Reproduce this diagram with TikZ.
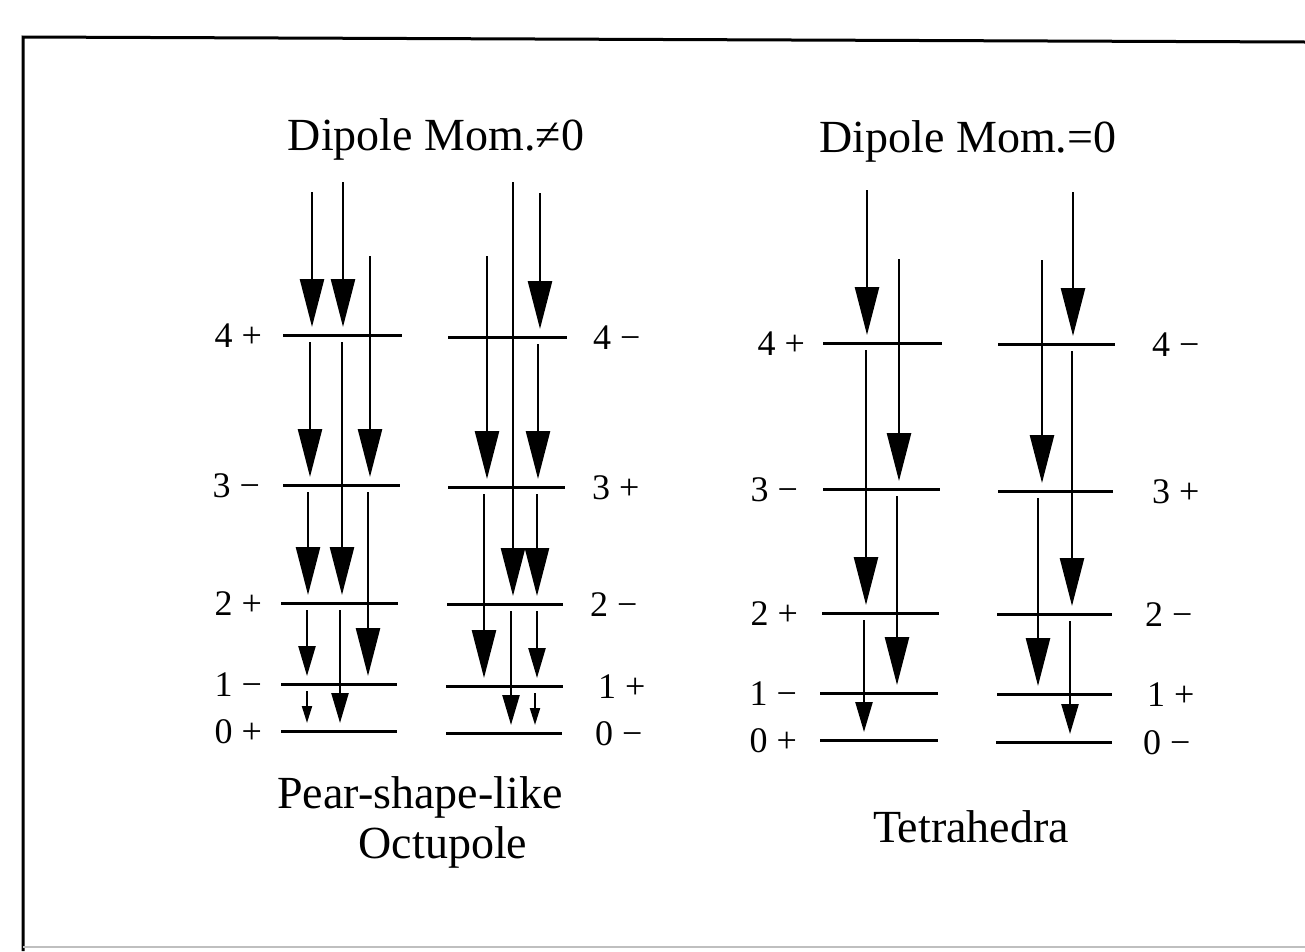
\documentclass[tikz,border=0pt]{standalone}
\usepackage{fontspec}
\setmainfont{Liberation Serif}
\usetikzlibrary{arrows.meta}
\begin{document}
\begin{tikzpicture}[x=1pt,y=-1pt,
  lev/.style={line width=3pt},
  arBig/.style={line width=2.6pt,-{Triangle[length=48pt,width=24pt]}},
  arMid/.style={line width=2.4pt,-{Triangle[length=30pt,width=17pt]}},
  arTiny/.style={line width=2pt,-{Triangle[length=17pt,width=10pt]}},
  lab/.style={inner sep=0pt,font=\fontsize{36}{43}\selectfont,text height=24pt,text depth=0pt},
  title/.style={inner sep=0pt,font=\fontsize{46}{55}\selectfont},
  frame/.style={line width=3pt},
]
\useasboundingbox (0,0) rectangle (1305,951);
\fill[white] (0,0) rectangle (1305,951);
% frame
\coordinate (fR) at (1305,42);
\coordinate (fTL) at (23,37);
\coordinate (fBL) at (23,951);
\coordinate (gL) at (23,947);
\coordinate (gR) at (1305,947);
\draw[frame] (fR) -- (fTL) -- (fBL);
\draw[line width=1.5pt,black!25] (gL) -- (gR);
% titles
\node[title,anchor=base] (h1) at (436,150) {Dipole Mom.≠0};
\node[title,anchor=base] (h2) at (968,152) {Dipole Mom.=0};
\node[title,anchor=base] (p1) at (420,808) {Pear-shape-like};
\node[title,anchor=base] (p2) at (443,858) {Octupole};
\node[title,anchor=base] (p3) at (971,842) {Tetrahedra};
% levels
\foreach \n/\xa/\xb/\y/\t/\lx/\an in {
  a4/283/402/335/{4 +}/262/east,
  a3/283/400/485/{3 −}/260/east,
  a2/281/398/603/{2 +}/262/east,
  a1/281/397/684/{1 −}/262/east,
  a0/281/397/731/{0 +}/262/east,
  b4/448/567/337/{4 −}/593/west,
  b3/448/565/487/{3 +}/592/west,
  b2/447/563/604/{2 −}/590/west,
  b1/446/563/686/{1 +}/598/west,
  b0/446/562/733/{0 −}/595/west,
  c4/823/942/343/{4 +}/805/east,
  c3/823/940/489/{3 −}/798/east,
  c2/822/939/613/{2 +}/798/east,
  c1/820/938/693/{1 −}/797/east,
  c0/820/938/740/{0 +}/797/east,
  d4/998/1115/344/{4 −}/1152/west,
  d3/998/1113/491/{3 +}/1152/west,
  d2/997/1112/614/{2 −}/1145/west,
  d1/997/1112/694/{1 +}/1147/west,
  d0/996/1112/742/{0 −}/1143/west}
{
  \coordinate (\n) at (\xa,\y);
  \coordinate (\n e) at (\xb,\y);
  \draw[lev] (\n) -- (\n e);
  \node[lab,anchor=\an] (\n l) at (\lx,\y) {\t};
}
% free upper ends of incoming transitions
\foreach \n/\x/\y/\to in {
  t1/312/192/a4, t2/343/182/a4, t3/370/256/a3,
  t4/540/193/b4, t5/513/182/b2, t6/487/256/b3,
  t7/867/190/c4, t8/899/259/c3,
  t9/1073/192/d4, t10/1042/260/d3}
{
  \coordinate (\n) at (\x,\y);
  \draw[arBig] (\n) -- ([yshift=8pt]\to -| \n);
}
% level to level transitions
\foreach \s/\x/\f/\t in {
  arBig/310/a4/a3, arBig/342/a4/a2, arBig/308/a3/a2, arBig/368/a3/a1,
  arMid/307/a2/a1, arMid/340/a2/a0, arTiny/307/a1/a0,
  arBig/538/b4/b3, arBig/537/b3/b2, arBig/484/b3/b1,
  arMid/537/b2/b1, arMid/511/b2/b0, arTiny/535/b1/b0,
  arBig/866/c4/c2, arBig/897/c3/c1, arMid/864/c2/c0,
  arBig/1072/d4/d2, arBig/1038/d3/d1, arMid/1070/d2/d0}
{
  \coordinate (u) at (\x,0);
  \draw[\s] ([yshift=-7pt]\f -| u) -- ([yshift=8pt]\t -| u);
}
\end{tikzpicture}
\end{document}
